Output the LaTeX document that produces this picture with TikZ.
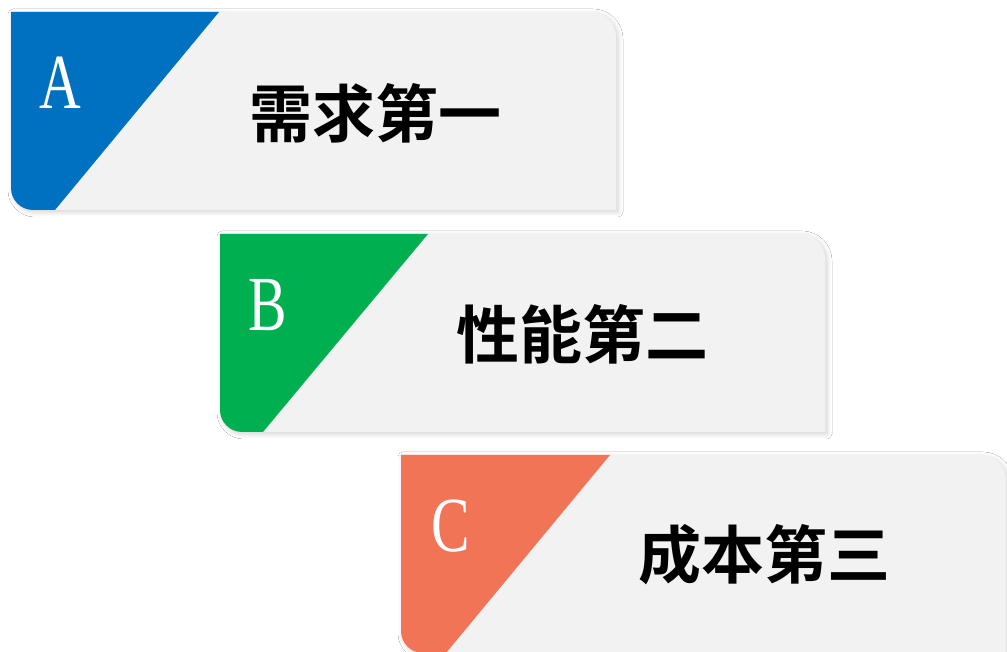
\documentclass[tikz,border=0pt]{standalone}
\usepackage{fontspec}
\setmainfont{Liberation Serif}
\newfontfamily\cjk{Noto Sans CJK SC Bold}
\usetikzlibrary{shadows.blur}
\definecolor{cardgray}{HTML}{F2F2F2}
\definecolor{cblue}{HTML}{0070C0}
\definecolor{cgreen}{HTML}{00B050}
\definecolor{corange}{HTML}{F27457}
\tikzset{
  cardshadow/.style={blur shadow={shadow xshift=2pt, shadow yshift=-2pt, shadow blur radius=5pt, shadow blur steps=8, shadow opacity=18}},
  letter/.style={text=white, font=\fontsize{78}{78}\selectfont, xscale=0.74, inner sep=0pt},
  title/.style={text=black, font=\cjk\fontsize{63}{63}\selectfont, inner sep=0pt}
}
% #1 = left x, #2 = top y (y up), #3 = colour, #4 = diagonal top dx, #5 = diagonal bottom dx
\newcommand{\mycard}[5]{%
  \path[fill=cardgray, cardshadow] (#1,#2) -- ({#1+580},#2) arc[start angle=90,end angle=0,radius=25] -- ({#1+605},{#2-198}) -- ({#1+22},{#2-198}) arc[start angle=270,end angle=180,radius=22] -- cycle;
  \begin{scope}
    \clip (#1,#2) -- ({#1+580},#2) arc[start angle=90,end angle=0,radius=25] -- ({#1+605},{#2-198}) -- ({#1+22},{#2-198}) arc[start angle=270,end angle=180,radius=22] -- cycle;
    \fill[#3] ({#1-5},{#2+5}) -- ({#1+#4},{#2+5}) -- ({#1+#4},#2) -- ({#1+#5},{#2-198}) -- ({#1+#5},{#2-205}) -- ({#1-5},{#2-205}) -- cycle;
  \end{scope}%
}
\begin{document}
\begin{tikzpicture}[x=1pt,y=1pt]
\useasboundingbox[fill=white] (0,0) rectangle (1007,652);
\mycard{11}{640}{cblue}{208}{44}
\mycard{220}{418}{cgreen}{208}{43}
\mycard{401}{197}{corange}{209}{45}
\node[letter] (la) at (60,569) {A};
\node[letter] (lb) at (268,347) {B};
\node[letter] (lc) at (451,126) {C};
\node[title] (ta) at (375,539) {需求第一};
\node[title] (tb) at (582,318) {性能第二};
\node[title] (tc) at (764,97) {成本第三};
\end{tikzpicture}
\end{document}
